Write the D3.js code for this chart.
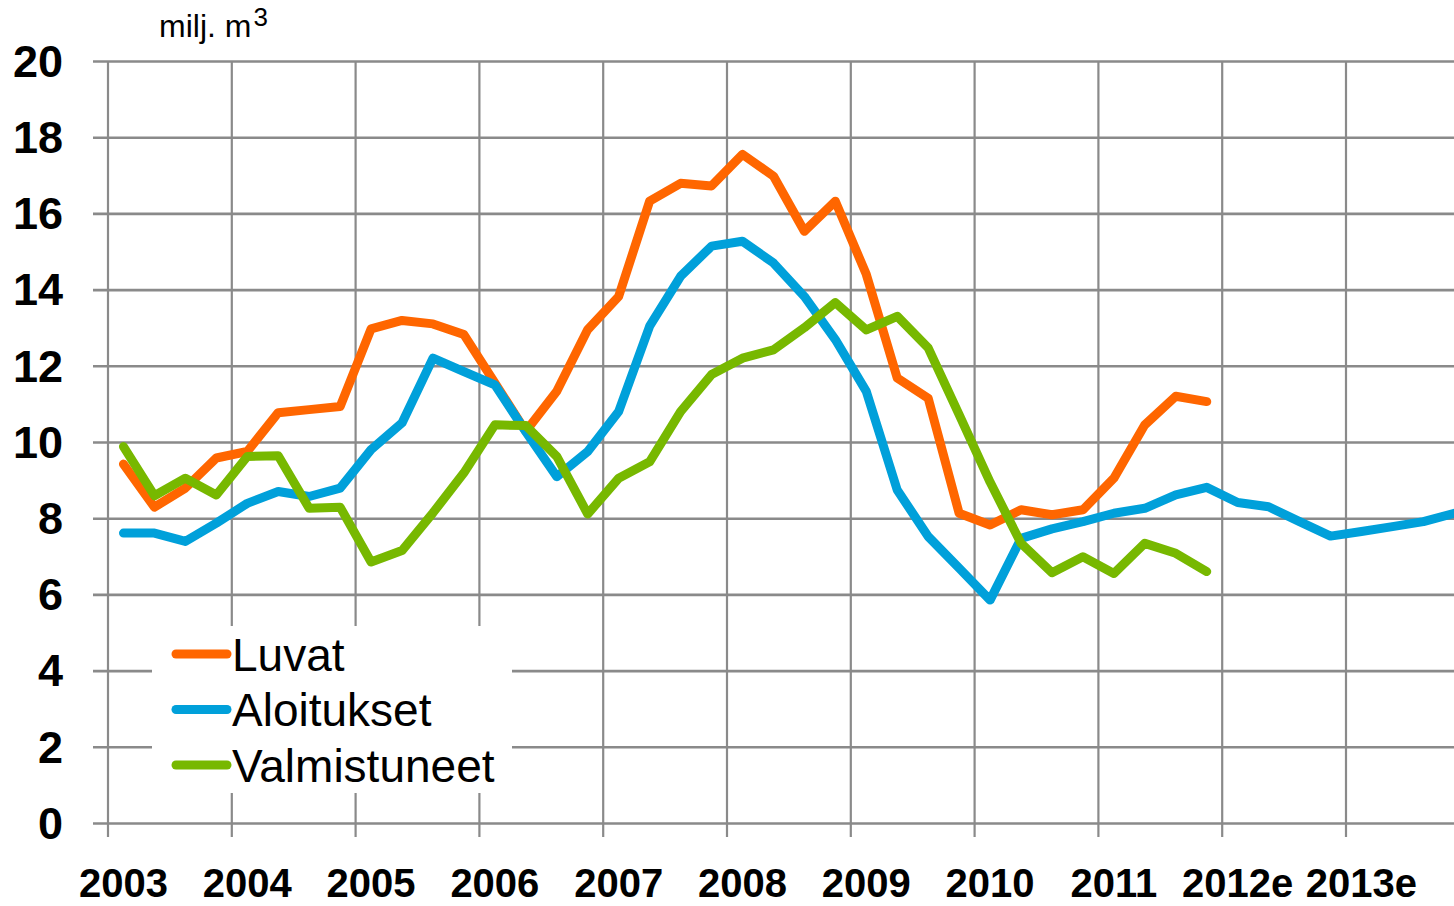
<!DOCTYPE html>
<html lang="fi">
<head>
  <meta charset="UTF-8">
  <script src="https://cdnjs.cloudflare.com/ajax/libs/d3/7.8.5/d3.min.js"></script>
  <title>Luvat, aloitukset, valmistuneet</title>
  <style>
    body { margin: 0; background: #fff; overflow: hidden; }
    svg { display: block; font-family: "Liberation Sans", Arial, sans-serif; }
  </style>
</head>
<body>
  <div id="chart"></div>
  <script>
    // year labels, one tick per year, 4 quarters each
    const years = ['2003', '2004', '2005', '2006', '2007', '2008', '2009', '2010', '2011', '2012e', '2013e'];
    const quarters = years.flatMap(y => ['Q1', 'Q2', 'Q3', 'Q4'].map(q => y + ' ' + q));

    const yTicks = [0, 2, 4, 6, 8, 10, 12, 14, 16, 18, 20];

    // milj. m3, quarterly (moving) values
    const luvat = [9.42, 8.29, 8.79, 9.58, 9.75, 10.77, 10.85, 10.93, 12.97, 13.19, 13.1, 12.82,
      11.55, 10.28, 11.33, 12.95, 13.82, 16.32, 16.79, 16.72, 17.55, 16.98, 15.53, 16.32,
      14.4, 11.68, 11.15, 8.13, 7.82, 8.22, 8.09, 8.22, 9.05, 10.45, 11.2, 11.06];
    const aloitukset = [7.61, 7.61, 7.39, 7.87, 8.39, 8.7, 8.57, 8.79, 9.8, 10.5, 12.2, 11.85,
      11.5, 10.27, 9.09, 9.75, 10.8, 13.04, 14.35, 15.14, 15.27, 14.7, 13.82, 12.69,
      11.33, 8.74, 7.52, 6.69, 5.85, 7.47, 7.72, 7.91, 8.13, 8.26, 8.61, 8.81,
      8.41, 8.3, 7.91, 7.53, 7.65, 7.78, 7.91, 8.13];
    const valmistuneet = [9.88, 8.59, 9.05, 8.61, 9.62, 9.64, 8.26, 8.29, 6.85, 7.15, 8.14, 9.19,
      10.45, 10.43, 9.62, 8.11, 9.05, 9.48, 10.8, 11.77, 12.2, 12.42, 13.0, 13.66,
      12.94, 13.3, 12.47, 10.72, 8.95, 7.34, 6.57, 6.99, 6.55, 7.34, 7.08, 6.6];

    const series = [
      { name: 'Luvat', values: luvat, color: '#ff6600' },
      { name: 'Aloitukset', values: aloitukset, color: '#00a0da' },
      { name: 'Valmistuneet', values: valmistuneet, color: '#77b800' }
    ];

    const W = 1454, H = 906;
    const plotLeft = 108, plotTop = 61, plotBottom = 823;
    const quarterW = 30.95;
    const gridColor = '#8a8a8a';

    const svg = d3.select('#chart').append('svg')
      .attr('width', W)
      .attr('height', H);

    const x = d3.scaleBand()
      .domain(quarters)
      .range([plotLeft, plotLeft + quarters.length * quarterW])
      .padding(0);
    const y = d3.scaleLinear()
      .domain([0, 20])
      .range([plotBottom, plotTop]);

    // horizontal grid + y labels
    const yAxis = d3.axisLeft(y)
      .tickValues(yTicks)
      .tickSize(-(W - 93))
      .tickPadding(30);
    const gy = svg.append('g')
      .attr('transform', 'translate(93,0)')
      .call(yAxis);
    gy.select('.domain').remove();
    gy.selectAll('line').attr('stroke', gridColor).attr('stroke-width', 2.6);
    gy.selectAll('text')
      .attr('x', -30)
      .attr('dy', '0.34em')
      .style('font-size', '45px')
      .style('font-weight', 'bold')
      .attr('fill', '#000');

    // vertical year lines
    const yearStarts = years.map(yr => yr + ' Q1');
    svg.append('g').selectAll('line')
      .data(yearStarts)
      .join('line')
      .attr('x1', d => x(d))
      .attr('x2', d => x(d))
      .attr('y1', plotTop)
      .attr('y2', plotBottom + 14)
      .attr('stroke', gridColor)
      .attr('stroke-width', 2.2);

    // x labels, centred on the first quarter of each year
    svg.append('g').selectAll('text')
      .data(years)
      .join('text')
      .attr('x', d => x(d + ' Q1') + x.bandwidth() / 2)
      .attr('y', 897)
      .attr('text-anchor', 'middle')
      .style('font-size', '40px')
      .style('font-weight', 'bold')
      .text(d => d);

    // unit label
    const unit = svg.append('text')
      .attr('x', 159)
      .attr('y', 37)
      .style('font-size', '32px')
      .text('milj. m');
    unit.append('tspan')
      .attr('dx', 2)
      .attr('dy', -11)
      .style('font-size', '26px')
      .text('3');

    // series
    const line = d3.line()
      .defined(d => d != null)
      .x((d, i) => x(quarters[i]) + x.bandwidth() / 2)
      .y(d => y(d));

    svg.append('g').selectAll('path')
      .data(series)
      .join('path')
      .attr('d', s => line(s.values))
      .attr('fill', 'none')
      .attr('stroke', s => s.color)
      .attr('stroke-width', 9)
      .attr('stroke-linejoin', 'round')
      .attr('stroke-linecap', 'round');

    // legend
    const legend = svg.append('g');
    legend.append('rect')
      .attr('x', 152).attr('y', 626)
      .attr('width', 360).attr('height', 167)
      .attr('fill', '#fff');
    const item = legend.selectAll('g')
      .data(series)
      .join('g')
      .attr('transform', (d, i) => `translate(0,${654 + i * 55.5})`);
    item.append('line')
      .attr('x1', 176).attr('x2', 227)
      .attr('stroke', d => d.color)
      .attr('stroke-width', 9)
      .attr('stroke-linecap', 'round');
    item.append('text')
      .attr('x', 232)
      .attr('dy', '0.36em')
      .style('font-size', '46px')
      .text(d => d.name);
  </script>
</body>
</html>
